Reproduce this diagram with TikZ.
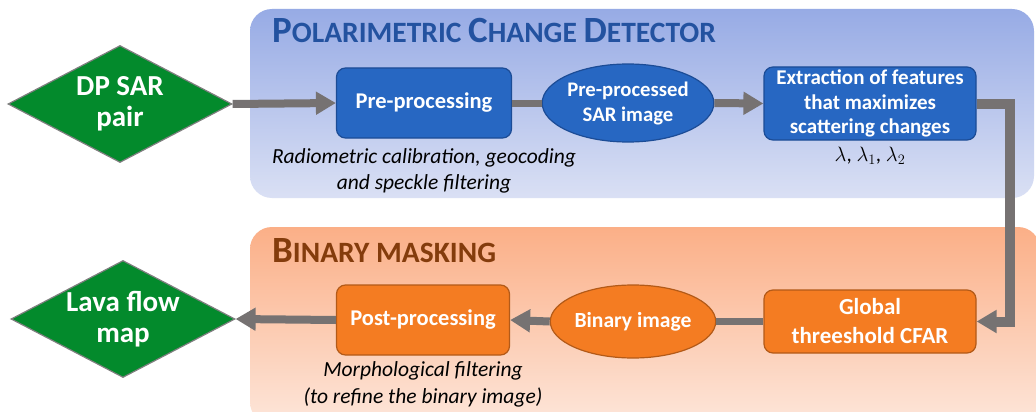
\documentclass[tikz,border=0pt]{standalone}
\usepackage{fontspec}
\setmainfont{Carlito}
\usetikzlibrary{shapes.geometric,arrows.meta}
\definecolor{pbluetop}{HTML}{97ABE5}
\definecolor{pbluebot}{HTML}{DAE0F4}
\definecolor{porgtop}{HTML}{FBAF87}
\definecolor{porgbot}{HTML}{FDE6DA}
\definecolor{boxblue}{HTML}{2767C2}
\definecolor{boxblueb}{HTML}{1C4C96}
\definecolor{boxorg}{HTML}{F47C22}
\definecolor{boxorgb}{HTML}{B35A18}
\definecolor{dgreen}{HTML}{038A2C}
\definecolor{dborder}{HTML}{7F7F7F}
\definecolor{arrgray}{HTML}{767272}
\definecolor{ttlblue}{HTML}{2352A0}
\definecolor{ttlbrown}{HTML}{843C0C}
\newcommand{\bigC}[1]{{\fontsize{37}{40}\selectfont #1}}
\tikzset{
  dia/.style={diamond, aspect=1.9, fill=dgreen, draw=dborder, line width=1.2pt, inner sep=0pt,
    minimum width=224pt, minimum height=117pt, text=white, align=center,
    font=\fontsize{29}{31}\selectfont\bfseries},
  bbox/.style={rectangle, rounded corners=9pt, fill=boxblue, draw=boxblueb, line width=1.2pt,
    text=white, align=center, inner sep=0pt},
  obox/.style={rectangle, rounded corners=9pt, fill=boxorg, draw=boxorgb, line width=1.2pt,
    text=white, align=center, inner sep=0pt},
  bell/.style={ellipse, fill=boxblue, draw=boxblueb, line width=1.2pt, text=white, align=center, inner sep=0pt},
  oell/.style={ellipse, fill=boxorg, draw=boxorgb, line width=1.2pt, text=white, align=center, inner sep=0pt},
  note/.style={align=center, inner sep=0pt, font=\fontsize{21.5}{25.5}\selectfont\itshape},
  conn/.style={draw=arrgray, line width=8pt},
  conna/.style={conn, -{Triangle[length=20pt,width=22pt]}},
  ttl/.style={anchor=base west, inner sep=0pt, font=\fontsize{29.5}{40}\selectfont\bfseries},
}
\begin{document}
\begin{tikzpicture}[x=1pt,y=-1pt]
\useasboundingbox (0,0) rectangle (1036,412);
\fill[white] (0,0) rectangle (1036,412);
% panels
\shade[top color=pbluetop, bottom color=pbluebot, rounded corners=22pt] (250,9) rectangle (1034,198);
\shade[top color=porgtop, bottom color=porgbot, rounded corners=22pt] (250,227) rectangle (1040,424);
% titles
\node[ttl, text=ttlblue] (t1) at (272,43) {\bigC{P}OLARIMETRIC \bigC{C}HANGE \bigC{D}ETECTOR};
\node[ttl, text=ttlbrown] (t2) at (272,262) {\bigC{B}INARY MASKING};
% nodes top
\node[dia] (dp) at (120,104) {DP SAR\\pair};
\node[bbox, minimum width=175pt, minimum height=70pt, font=\fontsize{22.5}{26}\selectfont\bfseries] (pre) at (424,103) {Pre-processing};
\node[bell, minimum width=161pt, minimum height=78pt, font=\fontsize{20.7}{25}\selectfont\bfseries] (ppe) at (628,103) {Pre-processed\\SAR image};
\node[bbox, minimum width=212pt, minimum height=73pt, font=\fontsize{21}{24.5}\selectfont\bfseries] (ext) at (870,103.5) {Extraction of features\\that maximizes\\scattering changes};
\node[note] (n1) at (424,171) {Radiometric calibration, geocoding\\and speckle filtering};
\node[inner sep=0pt, font=\fontsize{21}{24}\selectfont] (lam) at (870,156) {$\lambda$, $\lambda_1$, $\lambda_2$};
% nodes bottom
\node[dia] (lava) at (123,319) {Lava flow\\map};
\node[obox, minimum width=173pt, minimum height=70pt, font=\fontsize{22.5}{26}\selectfont\bfseries] (post) at (423,320) {Post-processing};
\node[oell, minimum width=161pt, minimum height=73pt, font=\fontsize{21.6}{25}\selectfont\bfseries] (bin) at (633,321.5) {Binary image};
\node[obox, minimum width=212pt, minimum height=63pt, font=\fontsize{23}{29}\selectfont\bfseries] (glob) at (870,321.5) {Global\\threeshold CFAR};
\node[note, font=\fontsize{21.5}{27}\selectfont\itshape] (n2) at (423,384) {Morphological filtering\\(to refine the binary image)};
% connectors
\coordinate (bend) at (1010,0);
\draw[conna] (dp.east) -- (pre.west);
\draw[conn, line width=7pt] (pre.east) -- (ppe.west);
\draw[conna] (ppe.east) -- (ext.west);
\draw[conna, line join=miter, line width=10pt] (ext.east) -| (bend |- glob.east) -- (glob.east);
\draw[conn, line width=7pt] (glob.west) -- (bin.east);
\draw[conna] (bin.west) -- (post.east);
\draw[conna] (post.west) -- (lava.east);
\end{tikzpicture}
\end{document}
